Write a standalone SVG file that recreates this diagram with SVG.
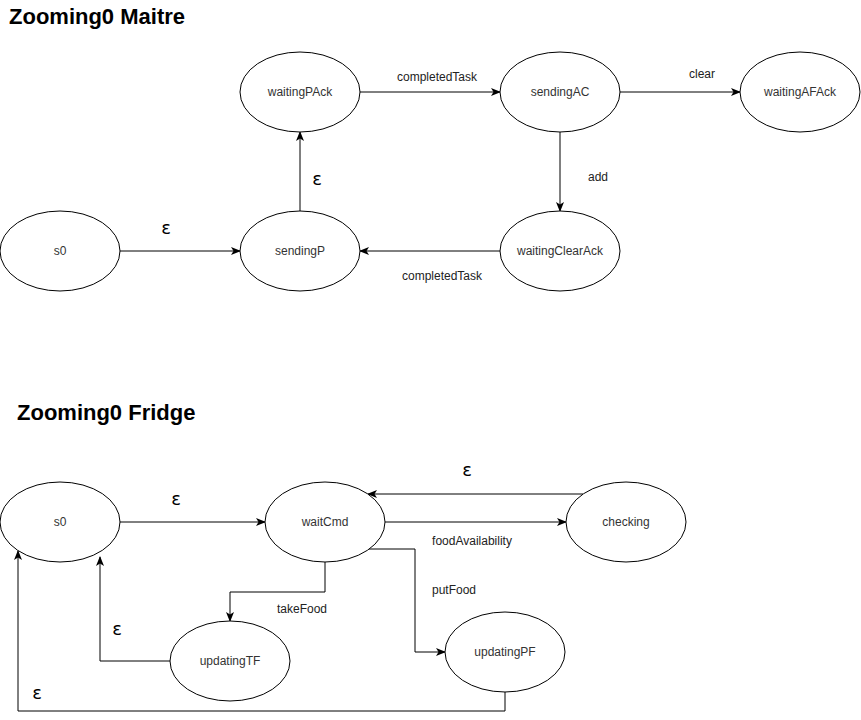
<svg xmlns="http://www.w3.org/2000/svg" width="861" height="720" viewBox="0 0 861 720">
<style>
.n{fill:#fff;stroke:#000;stroke-width:1}
.t{font-family:"Liberation Sans",Arial,sans-serif;font-size:12px;fill:#333;text-anchor:middle;dominant-baseline:central}
.l{font-family:"Liberation Sans",Arial,sans-serif;font-size:12px;fill:#222;text-anchor:middle;dominant-baseline:central}
.e{font-family:"DejaVu Sans",sans-serif;font-size:18px;fill:#000;text-anchor:middle;dominant-baseline:central}
.h{font-family:"Liberation Sans",Arial,sans-serif;font-size:22px;font-weight:bold;fill:#000}
.c{fill:none;stroke:#000;stroke-width:1;marker-end:url(#a)}
</style>
<defs>
<marker id="a" viewBox="0 0 10 10" refX="9" refY="5" markerWidth="10" markerHeight="10" markerUnits="userSpaceOnUse" orient="auto">
<path d="M0,1 L10,5 L0,9 L2.5,5 Z" fill="#000"/>
</marker>
</defs>
<rect width="861" height="720" fill="#fff"/>
<text class="h" x="9" y="24">Zooming0 Maitre</text>
<text class="h" x="17" y="420">Zooming0 Fridge</text>
<g id="connectors">
<path class="c" d="M120,251 L240,251"/>
<path class="c" d="M300,211 L300,132"/>
<path class="c" d="M360,92 L500,92"/>
<path class="c" d="M620,92 L740,92"/>
<path class="c" d="M560,132 L560,211"/>
<path class="c" d="M500,251 L360,251"/>
<path class="c" d="M120,522 L265,522"/>
<path class="c" d="M583,494 L368,494"/>
<path class="c" d="M385,522 L566,522"/>
<path class="c" d="M368,549 L415,549 L415,652 L445,652"/>
<path class="c" d="M325,562 L325,592 L230,592 L230,621"/>
<path class="c" d="M170,661 L100,661 L100,557"/>
<path class="c" d="M505,692 L505,711 L18,711 L18,551"/>
<text class="e" x="166" y="227">ε</text>
<text class="e" x="317" y="178">ε</text>
<text class="l" x="437" y="77">completedTask</text>
<text class="l" x="702" y="74">clear</text>
<text class="l" x="598" y="177">add</text>
<text class="l" x="442" y="276">completedTask</text>
<text class="e" x="176" y="498">ε</text>
<text class="e" x="467" y="469">ε</text>
<text class="l" x="472" y="541">foodAvailability</text>
<text class="l" x="454" y="590">putFood</text>
<text class="l" x="302" y="609">takeFood</text>
<text class="e" x="117" y="628">ε</text>
<text class="e" x="37" y="692">ε</text>
</g>
<g id="m_s0"><ellipse class="n" cx="60" cy="251" rx="60" ry="40"/><text class="t" x="60" y="251">s0</text></g>
<g id="m_sendingP"><ellipse class="n" cx="300" cy="251" rx="60" ry="40"/><text class="t" x="300" y="251">sendingP</text></g>
<g id="m_waitingPAck"><ellipse class="n" cx="300" cy="92" rx="60" ry="40"/><text class="t" x="300" y="92">waitingPAck</text></g>
<g id="m_sendingAC"><ellipse class="n" cx="560" cy="92" rx="60" ry="40"/><text class="t" x="560" y="92">sendingAC</text></g>
<g id="m_waitingAFAck"><ellipse class="n" cx="800" cy="92" rx="60" ry="40"/><text class="t" x="800" y="92">waitingAFAck</text></g>
<g id="m_waitingClearAck"><ellipse class="n" cx="560" cy="251" rx="60" ry="40"/><text class="t" x="560" y="251">waitingClearAck</text></g>
<g id="f_s0"><ellipse class="n" cx="60" cy="522" rx="60" ry="40"/><text class="t" x="60" y="522">s0</text></g>
<g id="f_waitCmd"><ellipse class="n" cx="325" cy="522" rx="60" ry="40"/><text class="t" x="325" y="522">waitCmd</text></g>
<g id="f_checking"><ellipse class="n" cx="626" cy="522" rx="60" ry="40"/><text class="t" x="626" y="522">checking</text></g>
<g id="f_updatingTF"><ellipse class="n" cx="230" cy="661" rx="60" ry="40"/><text class="t" x="230" y="661">updatingTF</text></g>
<g id="f_updatingPF"><ellipse class="n" cx="505" cy="652" rx="60" ry="40"/><text class="t" x="505" y="652">updatingPF</text></g>
</svg>
